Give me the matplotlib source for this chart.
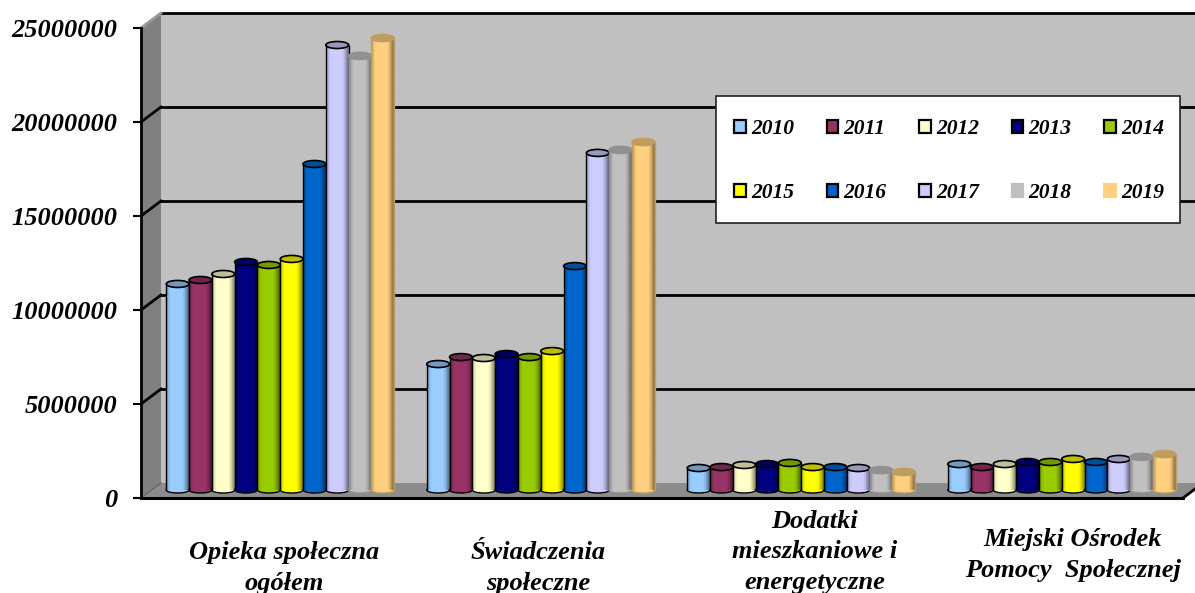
import numpy as np
import matplotlib
matplotlib.use('Agg')
import matplotlib.pyplot as plt
from matplotlib.colors import to_rgb
from matplotlib.patches import Ellipse, Polygon, Patch, Rectangle

# Data
categories = ['Opieka społeczna\nogółem', 'Świadczenia\nspołeczne',
              'Dodatki\nmieszkaniowe i\nenergetyczne', 'Miejski Ośrodek\nPomocy  Społecznej']
years = ['2010', '2011', '2012', '2013', '2014', '2015', '2016', '2017', '2018', '2019']
opieka = [10960000, 11170000, 11490000, 12130000, 11970000, 12290000, 17340000, 23670000, 23090000, 24040000]
swiadczenia = [6700000, 7070000, 7020000, 7230000, 7070000, 7390000, 11910000, 17930000, 18090000, 18510000]
dodatki = [1170000, 1220000, 1330000, 1380000, 1440000, 1220000, 1220000, 1170000, 1060000, 960000]
mops = [1380000, 1220000, 1380000, 1490000, 1490000, 1650000, 1490000, 1650000, 1760000, 1910000]
yticks = [0, 5000000, 10000000, 15000000, 20000000, 25000000]
colors = ['#99CCFF', '#993366', '#FFFFCC', '#000080', '#99CC00',
          '#FFFF00', '#0066CC', '#CCCCFF', '#C0C0C0', '#FFD080']
series = [opieka, swiadczenia, dodatki, mops]

W, H = 1195, 593
plt.rcParams['font.family'] = ['Liberation Serif', 'DejaVu Serif']
plt.rcParams['font.weight'] = 'bold'
plt.rcParams['font.style'] = 'italic'

fig = plt.figure(figsize=(W / 100, H / 100), dpi=100)
ax = fig.add_axes([141 / W, 1 - 498 / H, 1042 / W, 470 / H])
ax.set_xlim(0, 4)
ax.set_ylim(0, 25000000)

# one pixel in data units
px = 4 / 1042
py = 25000000 / 470
wall_dx, wall_dy = 20 * px, 15 * py
bar_dx, bar_dy = 9 * px, 8 * py
bar_w = 22.8 * px
top = 25000000

# walls and floor
ax.add_patch(Polygon([(wall_dx, wall_dy), (4 + wall_dx, wall_dy), (4 + wall_dx, top + wall_dy), (wall_dx, top + wall_dy)],
                     closed=True, fc='#C0C0C0', ec='none', clip_on=False, zorder=0))
ax.add_patch(Polygon([(0, 0), (wall_dx, wall_dy), (wall_dx, top + wall_dy), (0, top)],
                     closed=True, fc='#808080', ec='none', clip_on=False, zorder=0.5))
ax.add_patch(Polygon([(0, 0), (4, 0), (4 + wall_dx, wall_dy), (wall_dx, wall_dy)],
                     closed=True, fc='#8C8C8C', ec='none', clip_on=False, zorder=0.5))

# gridlines on the back and side wall
for t in yticks[1:]:
    diag = '#999999' if t == top else 'black'
    ax.plot([wall_dx, 4 + wall_dx], [t + wall_dy, t + wall_dy], color='black', lw=2,
            clip_on=False, zorder=1)
    ax.plot([0, wall_dx], [t, t + wall_dy], color=diag, lw=2, clip_on=False, zorder=1)
ax.plot([0, wall_dx], [0, wall_dy], color='#666666', lw=1, clip_on=False, zorder=1)
ax.plot([4, 4 + wall_dx], [0, wall_dy], color='black', lw=2, clip_on=False, zorder=1)

# horizontal shading across one cylinder
shade = np.zeros((1, 24, 4))
u = np.linspace(-1, 1, 24)
shade[0, :, 3] = np.clip((np.abs(u + 0.1) - 0.5) / 0.5, 0, 1) ** 1.5 * 0.4

for g, vals in enumerate(series):
    for i, v in enumerate(vals):
        x0 = g + 0.5 + bar_dx + (i - 5) * bar_w
        xc = x0 + bar_w / 2
        col = colors[i]
        dark = tuple(c * 0.75 for c in to_rgb(col))
        edge = 'black' if i < 8 else dark
        z = 3 + i * 0.1
        # bottom cap, body, shading, top cap
        ax.add_patch(Ellipse((xc, bar_dy), bar_w, 6 * py, fc=col, ec=edge, lw=1, zorder=z, clip_on=False))
        ax.bar(xc, v, width=bar_w, bottom=bar_dy, color=col, zorder=z)
        ax.imshow(shade, extent=(x0, x0 + bar_w, bar_dy, bar_dy + v), aspect='auto', zorder=z,
                  interpolation='bilinear')
        ax.vlines([x0, x0 + bar_w], bar_dy, bar_dy + v, color=edge, lw=1, zorder=z)
        ax.add_patch(Ellipse((xc, bar_dy + v), bar_w, 7 * py, fc=dark, ec=edge, lw=1.2, zorder=z + 0.05, clip_on=False))

ax.set_xlim(0, 4)
ax.set_ylim(0, 25000000)

# axes
for s in ['top', 'right']:
    ax.spines[s].set_visible(False)
ax.spines['left'].set_linewidth(2)
ax.spines['bottom'].set_linewidth(2.2)
ax.spines['left'].set_zorder(2)
ax.set_xticks([])
ax.set_yticks(yticks)
ax.set_yticklabels([str(t) for t in yticks], fontsize=19)
ax.tick_params(axis='y', length=6, width=1.5, pad=11)

# category labels
label_x = [284, 538, 815, 1073]
label_y = [568, 568, 552, 555]
for i, cat in enumerate(categories):
    fig.text(label_x[i] / W, 1 - label_y[i] / H, cat, ha='center', va='center',
             fontsize=19, linespacing=1.42)

# legend box is its own rectangle, the legend itself fills column by column
fig.add_artist(Rectangle((716 / W, 1 - 223 / H), 464 / W, 127 / H, transform=fig.transFigure,
                         fc='white', ec='#222222', lw=1.2, zorder=9))
handles = []
for i, y in enumerate(years):
    handles.append(Patch(fc=colors[i], ec='black' if i < 8 else colors[i], lw=1.6, label=y))
order = [0, 5, 1, 6, 2, 7, 3, 8, 4, 9]
leg = fig.legend([handles[i] for i in order], [years[i] for i in order], ncol=5,
                 loc='upper left', bbox_to_anchor=(734 / W, 1 - 119 / H), bbox_transform=fig.transFigure,
                 fontsize=15.5, frameon=False,
                 handlelength=0.55, handleheight=0.55, handletextpad=0.25,
                 columnspacing=1.5, labelspacing=2.06, borderpad=0, borderaxespad=0)
leg.set_zorder(10)

fig.savefig('out.png', dpi=100)
